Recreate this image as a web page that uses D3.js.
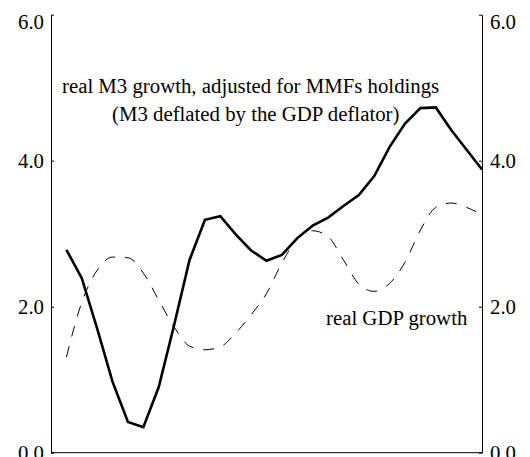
<!DOCTYPE html>
<html>
<head>
<meta charset="utf-8">
<script src="https://cdn.jsdelivr.net/npm/d3@7"></script>
<style>
  html, body { margin: 0; padding: 0; background: #fff; }
  svg { display: block; }
  text { font-family: "Liberation Serif", "Times New Roman", serif; fill: #000; }
</style>
</head>
<body>
<svg id="chart" width="530" height="457"></svg>
<script>
// ---- data (quarterly observations, index 0..27) ----
const m3Growth = [2.78, 2.39, 1.70, 0.97, 0.42, 0.35, 0.90, 1.75, 2.64, 3.19,
                  3.24, 2.99, 2.77, 2.63, 2.71, 2.94, 3.11, 3.22, 3.38, 3.53,
                  3.79, 4.19, 4.51, 4.72, 4.73, 4.42, 4.15, 3.88];
const gdpGrowth = [1.31, 2.06, 2.50, 2.68, 2.67, 2.46, 2.09, 1.72, 1.46, 1.41,
                   1.45, 1.64, 1.89, 2.18, 2.60, 2.93, 3.04, 2.96, 2.64, 2.31,
                   2.21, 2.32, 2.61, 3.05, 3.36, 3.42, 3.36, 3.26];
const yTicks = [0, 2, 4, 6];
const m3Label = ["real M3 growth, adjusted for MMFs holdings", "(M3 deflated by the GDP deflator)"];
const gdpLabel = "real GDP growth";

// ---- layout ----
const svg = d3.select("#chart");
const plotLeft = 51, plotRight = 482, plotTop = 14.7, plotBottom = 452.7;
const fontSize = "20.8px";

const x = d3.scaleLinear().domain([-1, m3Growth.length - 1]).range([plotLeft, plotRight]);
const y = d3.scaleLinear().domain([0, 6]).range([plotBottom, plotTop]);

const fmt = d3.format(".1f");

// left axis
const gL = svg.append("g").attr("transform", `translate(${plotLeft},0)`)
  .call(d3.axisLeft(y).tickValues(yTicks).tickFormat(fmt).tickSizeInner(-3).tickSizeOuter(0).tickPadding(7));
// right axis
const gR = svg.append("g").attr("transform", `translate(${plotRight},0)`)
  .call(d3.axisRight(y).tickValues(yTicks).tickFormat(fmt).tickSizeInner(-3).tickSizeOuter(0).tickPadding(8));

[gL, gR].forEach(g => {
  g.attr("font-size", null).attr("font-family", null);
  g.select(".domain").attr("stroke", "#000").attr("stroke-width", 1);
  g.selectAll(".tick line").attr("stroke", "#000");
  g.selectAll(".tick text")
    .style("font-family", "'Liberation Serif', 'Times New Roman', serif")
    .style("font-size", fontSize)
    .attr("fill", "#000")
    .attr("dy", d => d === 6 ? "0.68em" : "0.32em");
});

// bottom baseline
svg.append("line")
  .attr("x1", plotLeft).attr("x2", plotRight)
  .attr("y1", y(0)).attr("y2", y(0))
  .attr("stroke", "#000").attr("stroke-width", 1);

// lines
svg.append("path")
  .datum(gdpGrowth)
  .attr("d", d3.line().x((d, i) => x(i)).y(d => y(d)).curve(d3.curveMonotoneX))
  .attr("fill", "none")
  .attr("stroke", "#000")
  .attr("stroke-width", 1)
  .attr("stroke-dasharray", "11,10");

svg.append("path")
  .datum(m3Growth)
  .attr("d", d3.line().x((d, i) => x(i)).y(d => y(d)))
  .attr("fill", "none")
  .attr("stroke", "#000")
  .attr("stroke-width", 2.6)
  .attr("stroke-linejoin", "miter");

// annotations
svg.append("text").attr("x", 62).attr("y", 93).style("font-size", fontSize).text(m3Label[0]);
svg.append("text").attr("x", 112).attr("y", 121).style("font-size", fontSize).text(m3Label[1]);
svg.append("text").attr("x", 326).attr("y", 325).style("font-size", fontSize).text(gdpLabel);
</script>
</body>
</html>
